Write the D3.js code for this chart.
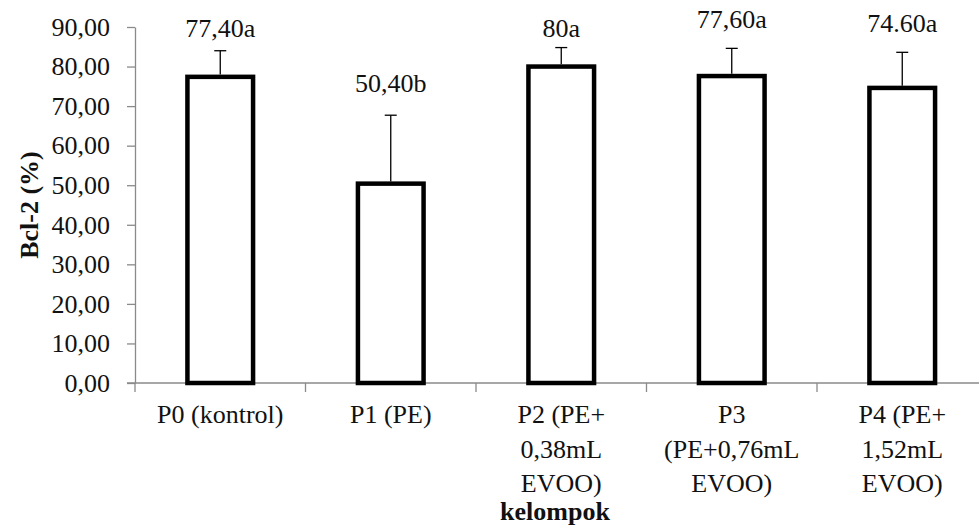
<!DOCTYPE html>
<html>
<head>
<meta charset="utf-8">
<script src="https://cdn.jsdelivr.net/npm/d3@7"></script>
</head>
<body style="margin:0; background:#fff">
<div id="chart"></div>
<script>
"use strict";

const groups = ['P0 (kontrol)', 'P1 (PE)', 'P2 (PE+ 0,38mL EVOO)', 'P3 (PE+0,76mL EVOO)', 'P4 (PE+ 1,52mL EVOO)'];
const groupLines = [['P0 (kontrol)'], ['P1 (PE)'], ['P2 (PE+', '0,38mL', 'EVOO)'], ['P3', '(PE+0,76mL', 'EVOO)'], ['P4 (PE+', '1,52mL', 'EVOO)']];
const means = [77.4, 50.4, 80, 77.6, 74.6];
const errors = [6.6, 17.3, 4.8, 7.0, 9.0];
const labels = ['77,40a', '50,40b', '80a', '77,60a', '74.60a'];
const labelLevel = [87.5, 73.6, 87.5, 89.7, 88.8];
const yTicks = [0, 10, 20, 30, 40, 50, 60, 70, 80, 90];

const chartWidth = 979, chartHeight = 527;
const plotLeft = 135, plotTop = 27, plotBottom = 383, step = 170.5;
const fontFam = "'Liberation Serif'";

const svg = d3.select('#chart').append('svg')
	.attr('width', chartWidth)
	.attr('height', chartHeight);

let x = d3.scaleBand()
	.domain(groups)
	.range([plotLeft, plotLeft + step * groups.length])
	.paddingInner(0.615)
	.paddingOuter(0.3075);

let y = d3.scaleLinear()
	.domain([0, 90])
	.range([plotBottom, plotTop]);

//---- Axes
let yAxis = svg.append('g')
	.attr('transform', `translate(${plotLeft},0)`)
	.call(d3.axisLeft(y)
		.tickValues(yTicks)
		.tickSize(8)
		.tickSizeOuter(0)
		.tickPadding(17)
		.tickFormat(d => d3.format('.2f')(d).replace('.', ',')));
yAxis.attr('font-family', null).attr('font-size', null);
yAxis.select('.domain').attr('stroke', '#8a8a8a').attr('stroke-width', 1.3);
yAxis.selectAll('.tick line').attr('stroke', '#8a8a8a').attr('stroke-width', 1.3);
yAxis.selectAll('.tick text')
	.attr('fill', '#111')
	.attr('font-size', 26)
	.style('font-family', fontFam);

// x axis line + boundary ticks
svg.append('line')
	.attr('x1', plotLeft - 8).attr('x2', chartWidth)
	.attr('y1', plotBottom).attr('y2', plotBottom)
	.attr('stroke', '#8a8a8a').attr('stroke-width', 1.3);

svg.selectAll('.xtick')
	.data(d3.range(groups.length + 1))
	.join('line')
	.classed('xtick', true)
	.attr('x1', i => plotLeft + step * i).attr('x2', i => plotLeft + step * i)
	.attr('y1', plotBottom).attr('y2', plotBottom + 9)
	.attr('stroke', '#8a8a8a').attr('stroke-width', 1.3);

// category labels
let cats = svg.selectAll('.cat')
	.data(groups)
	.join('text')
	.classed('cat', true)
	.attr('text-anchor', 'middle')
	.attr('font-size', 26)
	.attr('fill', '#111')
	.style('font-family', fontFam)
	.attr('y', plotBottom + 40);
cats.each(function (g, i) {
	d3.select(this).selectAll('tspan')
		.data(groupLines[i])
		.join('tspan')
		.attr('x', x(g) + x.bandwidth() / 2)
		.attr('dy', (d, j) => j === 0 ? 0 : 34.5)
		.text(d => d);
});

//---- Bars
svg.selectAll('.bar')
	.data(groups)
	.join('rect')
	.classed('bar', true)
	.attr('x', g => x(g))
	.attr('width', x.bandwidth())
	.attr('y', (g, i) => y(means[i]))
	.attr('height', (g, i) => y(0) - y(means[i]))
	.attr('fill', '#fff')
	.attr('stroke', '#000')
	.attr('stroke-width', 4.5);

//---- Error bars (upper only)
let err = svg.selectAll('.err')
	.data(groups)
	.join('g')
	.classed('err', true)
	.attr('transform', g => `translate(${x(g) + x.bandwidth() / 2},0)`);
err.append('line')
	.attr('y1', (g, i) => y(means[i]) - 2.25)
	.attr('y2', (g, i) => y(means[i] + errors[i]))
	.attr('stroke', '#000').attr('stroke-width', 1.3);
err.append('line')
	.attr('x1', -6).attr('x2', 6)
	.attr('y1', (g, i) => y(means[i] + errors[i]))
	.attr('y2', (g, i) => y(means[i] + errors[i]))
	.attr('stroke', '#000').attr('stroke-width', 1.3);

//---- Value labels
svg.selectAll('.val')
	.data(groups)
	.join('text')
	.classed('val', true)
	.attr('text-anchor', 'middle')
	.attr('font-size', 26)
	.attr('fill', '#111')
	.style('font-family', fontFam)
	.attr('x', g => x(g) + x.bandwidth() / 2)
	.attr('y', (g, i) => y(labelLevel[i]))
	.text((g, i) => labels[i]);

//---- Axis titles
svg.append('text')
	.attr('text-anchor', 'middle')
	.attr('font-size', 26)
	.attr('font-weight', 'bold')
	.attr('fill', '#111')
	.style('font-family', fontFam)
	.attr('transform', `translate(38,${(plotTop + plotBottom) / 2}) rotate(-90)`)
	.text('Bcl-2 (%)');

svg.append('text')
	.attr('text-anchor', 'middle')
	.attr('font-size', 26)
	.attr('font-weight', 'bold')
	.attr('fill', '#111')
	.style('font-family', fontFam)
	.attr('x', 555)
	.attr('y', 520)
	.text('kelompok');
</script>
</body>
</html>
